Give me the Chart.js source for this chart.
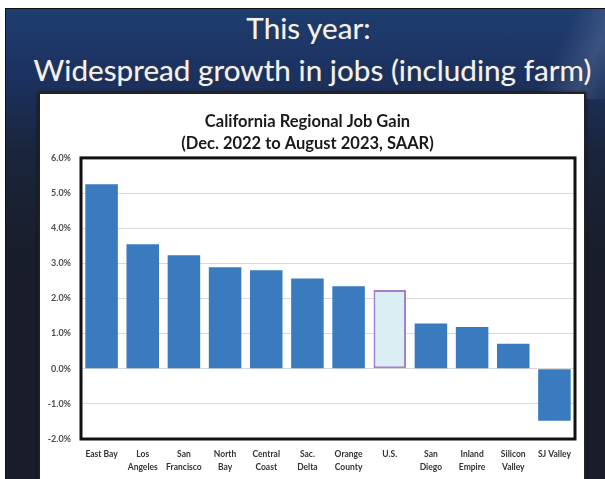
<!DOCTYPE html>
<html>
<head>
<meta charset="utf-8">
<script src="https://cdn.jsdelivr.net/npm/chart.js@4.4.0/dist/chart.umd.min.js"></script>
<style>
  html, body { margin: 0; padding: 0; background: #ffffff; }
  #page { position: relative; width: 605px; height: 479px; overflow: hidden; background: #ffffff; }
  #slide { position: absolute; left: 5px; top: 8px; width: 600px; height: 471px;
    border-left: 1.5px solid #111; border-top: 1.5px solid #111;
    background: linear-gradient(180deg, #1f3d70 0%, #1c3260 14%, #1a253d 30%, #191e2b 50%, #191d29 100%); overflow: hidden; }
  #glare { position: absolute; right: -40px; top: -20px; width: 110px; height: 110px;
    background: linear-gradient(115deg, rgba(255,255,255,0) 30%, rgba(160,180,210,0.22) 55%, rgba(255,255,255,0) 80%); }
  .ttl { position: absolute; left: 0; width: 605px; text-align: center; color: #f2f2f2;
    font-family: Lato, "Open Sans", sans-serif; white-space: nowrap;
    text-shadow: 0 0 2px rgba(255,255,255,0.35), 0 0 3px rgba(0,0,0,0.6); line-height: 1; }
  #box { position: absolute; left: 38px; top: 92px; width: 544px; height: 390px;
    background: #fff; border: 2px solid #222; box-shadow: 0 0 3px rgba(0,0,0,0.6); }
  #cv { position: absolute; left: 40px; top: 94px; }
</style>
</head>
<body>
<div id="page">
  <div id="slide"><div id="glare"></div></div>
  <div class="ttl" id="t1">This year:</div>
  <div class="ttl" id="t2">Widespread growth in jobs (including farm)</div>
  <div id="box"></div>
  <canvas id="cv" width="543" height="385"></canvas>
</div>
<script>
// ---- data ----
const categories = [
  "East Bay", ["Los", "Angeles"], ["San", "Francisco"], ["North", "Bay"],
  ["Central", "Coast"], ["Sac.", "Delta"], ["Orange", "County"], "U.S.",
  ["San", "Diego"], ["Inland", "Empire"], ["Silicon", "Valley"], "SJ Valley"
];
const jobGain = [5.25, 3.54, 3.23, 2.89, 2.80, 2.57, 2.35, 2.24, 1.29, 1.19, 0.71, -1.48];
const highlighted = ["U.S."];
const yTickValues = [-2, -1, 0, 1, 2, 3, 4, 5, 6];
const chartTitle = ["California Regional Job Gain", "(Dec. 2022 to August 2023, SAAR)"];

// ---- slide title sizing ----
(function () {
  const c = document.createElement('canvas').getContext('2d');
  const fam = 'Lato, "Open Sans", sans-serif';
  c.font = '100px ' + fam;
  const w = c.measureText(document.getElementById('t2').textContent).width;
  const fs = 100 * 558 / w;
  const t1 = document.getElementById('t1'), t2 = document.getElementById('t2');
  t1.style.fontSize = fs + 'px'; t2.style.fontSize = fs + 'px';
  t1.style.left = '6px'; t2.style.left = '10px';
  t1.style.top = (29 - fs * 0.55) + 'px';
  t2.style.top = (71 - fs * 0.55) + 'px';
})();

const isHi = categories.map(c => highlighted.includes(Array.isArray(c) ? c.join(' ') : c));

const frame = {
  id: 'frame',
  afterDraw(chart) {
    const a = chart.chartArea, ctx = chart.ctx;
    ctx.save();
    ctx.strokeStyle = '#111';
    ctx.lineWidth = 3;
    ctx.strokeRect(a.left, a.top, a.right - a.left, a.bottom - a.top);
    ctx.restore();
  }
};

new Chart(document.getElementById('cv'), {
  type: 'bar',
  data: {
    labels: categories,
    datasets: [{
      data: jobGain,
      backgroundColor: isHi.map(h => h ? '#daeef3' : '#3a7bbf'),
      borderColor: isHi.map(h => h ? '#a77fcc' : '#3a7bbf'),
      borderWidth: isHi.map(h => h ? 2 : 0),
      borderSkipped: false,
      categoryPercentage: 1,
      barPercentage: 0.79
    }]
  },
  options: {
    responsive: false,
    animation: false,
    devicePixelRatio: 1,
    layout: { padding: { left: 0, right: 8, top: 0, bottom: 0 } },
    plugins: {
      legend: { display: false },
      tooltip: { enabled: false },
      title: {
        display: true,
        text: chartTitle,
        color: '#1a1a1a',
        font: { family: 'Lato, "Open Sans", sans-serif', size: 16.5, weight: 'bold', lineHeight: 1.3 },
        padding: { top: 17, bottom: 4 }
      }
    },
    scales: {
      y: {
        min: -2, max: 6,
        afterBuildTicks(s) { s.ticks = yTickValues.map(v => ({ value: v })); },
        afterFit(s) { s.width = 41; },
        grid: { color: '#d9d9d9', lineWidth: 1, drawTicks: false },
        border: { display: false },
        ticks: {
          padding: 10,
          color: '#4d4d4d',
          font: { family: 'Lato, "Open Sans", sans-serif', size: 9, weight: 'bold' },
          callback: v => v.toFixed(1) + '%'
        }
      },
      x: {
        afterFit(s) { s.height = 40; },
        grid: { display: false },
        border: { display: false },
        ticks: {
          padding: 1,
          autoSkip: false,
          maxRotation: 0,
          color: '#333',
          font: { family: 'Lato, "Open Sans", sans-serif', size: 8.5, weight: 'bold', lineHeight: 1.5 }
        }
      }
    }
  },
  plugins: [frame]
});
</script>
</body>
</html>
